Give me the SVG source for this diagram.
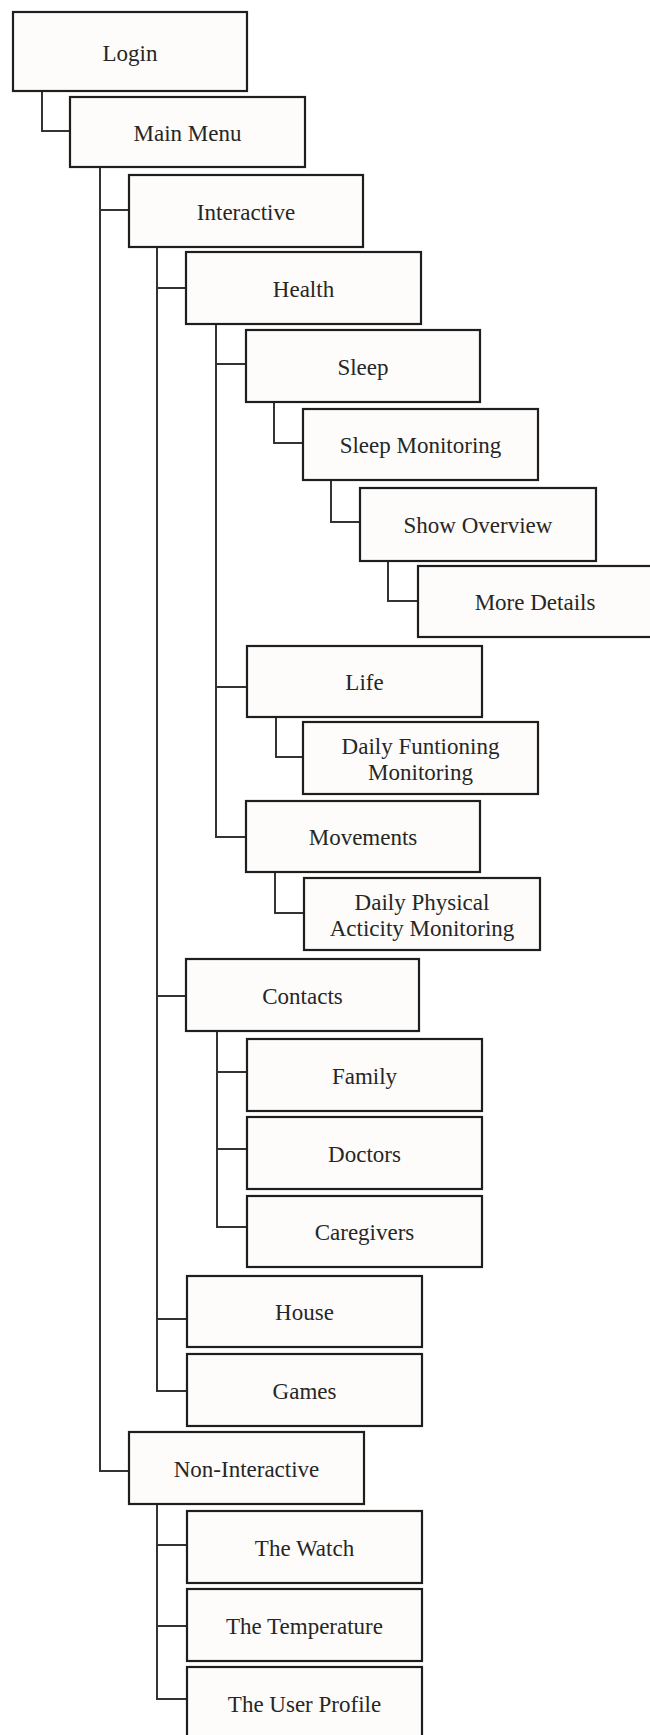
<svg xmlns="http://www.w3.org/2000/svg" width="650" height="1735" viewBox="0 0 650 1735">
<style>
.box{fill:#fdfcfa;stroke:#1e1e1e;stroke-width:2.2}
.lbl{font-family:"Liberation Serif","Times New Roman",serif;font-size:23px;fill:#262626;text-anchor:middle}
.con{fill:none;stroke:#333;stroke-width:2}
</style>
<rect width="650" height="1735" fill="#ffffff"/>
<g id="connectors">
<path class="con" d="M42,91 V131 H70"/>
<path class="con" d="M100,167 V1471 H129 M100,210 H129"/>
<path class="con" d="M157,247 V1391 H187 M157,288 H186 M157,996 H186 M157,1319 H187"/>
<path class="con" d="M216,324 V837 H246 M216,364 H246 M216,687 H247"/>
<path class="con" d="M274,402 V443 H303"/>
<path class="con" d="M331,480 V522 H360"/>
<path class="con" d="M388,561 V601 H418"/>
<path class="con" d="M276,717 V757 H303"/>
<path class="con" d="M275,872 V913 H304"/>
<path class="con" d="M217,1031 V1227 H247 M217,1072 H247 M217,1149 H247"/>
<path class="con" d="M157,1504 V1699 H187 M157,1545 H187 M157,1626 H187"/>
</g>
<g id="login"><rect class="box" x="13" y="12" width="234" height="79"/><text class="lbl" x="130" y="61">Login</text></g>
<g id="main-menu"><rect class="box" x="70" y="97" width="235" height="70"/><text class="lbl" x="187.5" y="141">Main Menu</text></g>
<g id="interactive"><rect class="box" x="129" y="175" width="234" height="72"/><text class="lbl" x="246" y="220">Interactive</text></g>
<g id="health"><rect class="box" x="186" y="252" width="235" height="72"/><text class="lbl" x="303.5" y="297">Health</text></g>
<g id="sleep"><rect class="box" x="246" y="330" width="234" height="72"/><text class="lbl" x="363" y="375">Sleep</text></g>
<g id="sleep-monitoring"><rect class="box" x="303" y="409" width="235" height="71"/><text class="lbl" x="420.5" y="453">Sleep Monitoring</text></g>
<g id="show-overview"><rect class="box" x="360" y="488" width="236" height="73"/><text class="lbl" x="478" y="533">Show Overview</text></g>
<g id="more-details"><rect class="box" x="418" y="566" width="250" height="71"/><text class="lbl" x="535" y="610">More Details</text></g>
<g id="life"><rect class="box" x="247" y="646" width="235" height="71"/><text class="lbl" x="364.5" y="690">Life</text></g>
<g id="daily-functioning"><rect class="box" x="303" y="722" width="235" height="72"/><text class="lbl" x="420.5" y="754">Daily Funtioning</text><text class="lbl" x="420.5" y="780">Monitoring</text></g>
<g id="movements"><rect class="box" x="246" y="801" width="234" height="71"/><text class="lbl" x="363" y="845">Movements</text></g>
<g id="daily-physical"><rect class="box" x="304" y="878" width="236" height="72"/><text class="lbl" x="422" y="910">Daily Physical</text><text class="lbl" x="422" y="936">Acticity Monitoring</text></g>
<g id="contacts"><rect class="box" x="186" y="959" width="233" height="72"/><text class="lbl" x="302.5" y="1004">Contacts</text></g>
<g id="family"><rect class="box" x="247" y="1039" width="235" height="72"/><text class="lbl" x="364.5" y="1084">Family</text></g>
<g id="doctors"><rect class="box" x="247" y="1117" width="235" height="72"/><text class="lbl" x="364.5" y="1162">Doctors</text></g>
<g id="caregivers"><rect class="box" x="247" y="1196" width="235" height="71"/><text class="lbl" x="364.5" y="1240">Caregivers</text></g>
<g id="house"><rect class="box" x="187" y="1276" width="235" height="71"/><text class="lbl" x="304.5" y="1320">House</text></g>
<g id="games"><rect class="box" x="187" y="1354" width="235" height="72"/><text class="lbl" x="304.5" y="1399">Games</text></g>
<g id="non-interactive"><rect class="box" x="129" y="1432" width="235" height="72"/><text class="lbl" x="246.5" y="1477">Non-Interactive</text></g>
<g id="the-watch"><rect class="box" x="187" y="1511" width="235" height="72"/><text class="lbl" x="304.5" y="1556">The Watch</text></g>
<g id="the-temperature"><rect class="box" x="187" y="1589" width="235" height="72"/><text class="lbl" x="304.5" y="1634">The Temperature</text></g>
<g id="the-user-profile"><rect class="box" x="187" y="1667" width="235" height="80"/><text class="lbl" x="304.5" y="1712">The User Profile</text></g>
</svg>
